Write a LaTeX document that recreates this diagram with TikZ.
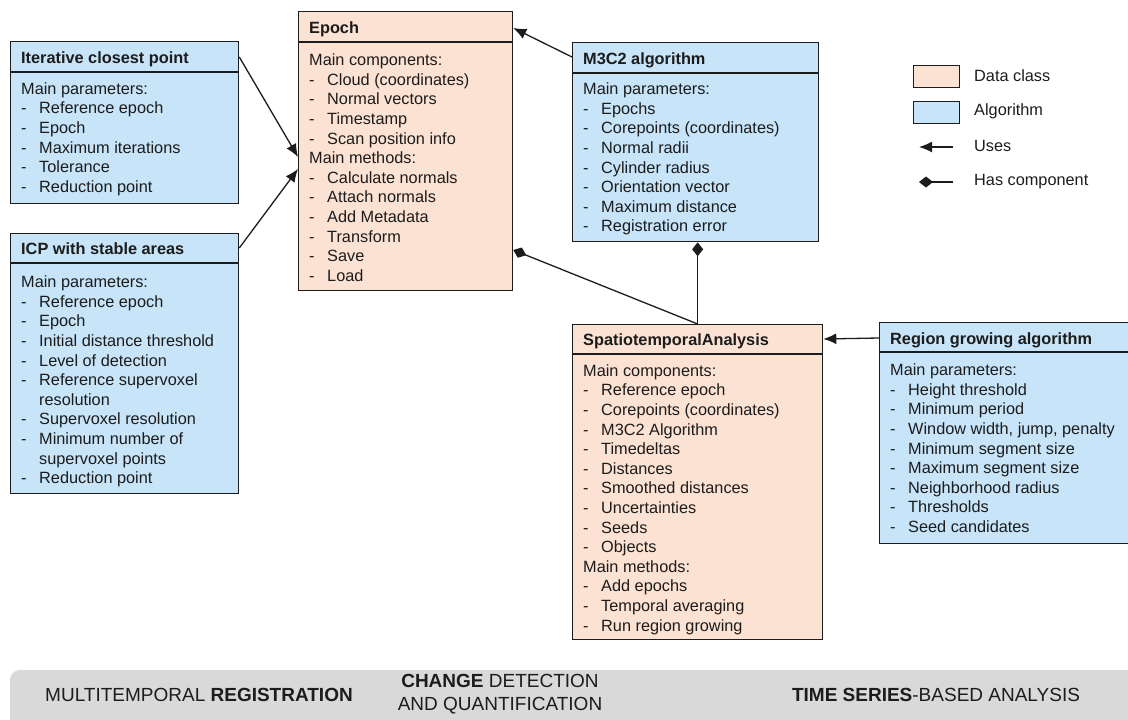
\documentclass[tikz,border=0pt]{standalone}
\usepackage{fontspec}
\setmainfont{Liberation Sans}
\usetikzlibrary{arrows.meta, calc}

\definecolor{dataclr}{RGB}{252,226,211}
\definecolor{algclr}{RGB}{199,228,248}
\definecolor{bandclr}{RGB}{217,217,217}
\definecolor{inkclr}{RGB}{28,28,28}

\newcommand{\li}[1]{\makebox[18pt][l]{-}#1}
\newcommand{\lc}[1]{\hspace*{18pt}#1}
\newcommand{\firstline}{\rule{0pt}{15pt}}

\begin{document}
\begin{tikzpicture}[
	x=1pt, y=-1pt,
	every node/.style={font=\fontsize{16.3}{19.6}\selectfont, text=inkclr},
	databox/.style={draw=inkclr, line width=1.3pt, fill=dataclr, anchor=north west, inner sep=0pt},
	algbox/.style={databox, fill=algclr},
	divider/.style={draw=inkclr, line width=1.3pt},
	header/.style={anchor=base west, inner sep=0pt, font=\fontsize{16.3}{19.6}\selectfont\bfseries},
	body/.style={anchor=north west, inner sep=0pt, align=left},
	keylabel/.style={anchor=west, inner sep=0pt},
	bandlabel/.style={inner sep=0pt, align=center, font=\fontsize{19}{23}\selectfont},
	uses/.style={draw=inkclr, line width=1.3pt, -{Latex[length=13pt, width=11pt]}},
	has/.style={draw=inkclr, line width=1.3pt, -{Diamond[length=14pt, width=11pt]}}
	]
	
	\useasboundingbox (0,0) rectangle (1128,720);
	\clip (0,0) rectangle (1128,720);
	
	% bottom band
	\fill[bandclr, rounded corners=10pt] (10,670) rectangle (1160,760);
	\node[bandlabel] (reg) at (199,695) {MULTITEMPORAL \textbf{REGISTRATION}};
	\node[bandlabel] (chg) at (500,694) {\textbf{CHANGE} DETECTION\\AND QUANTIFICATION};
	\node[bandlabel] (tsa) at (936,695) {\textbf{TIME SERIES}-BASED ANALYSIS};
	
	% classes
	\node[algbox, minimum width=228pt, minimum height=162pt] (icp) at (10,41) {};
	\draw[divider] ($(icp.north west)+(0,31)$) -- ($(icp.north east)+(0,31)$);
	\node[header] (icp-t) at ($(icp.north west)+(11,22.5)$) {Iterative closest point};
	\node[body] (icp-b) at ($(icp.north west)+(11,38)$) {\firstline Main parameters:\\
		\li{Reference epoch}\\
		\li{Epoch}\\
		\li{Maximum iterations}\\
		\li{Tolerance}\\
		\li{Reduction point}};
	
	\node[algbox, minimum width=228pt, minimum height=260pt] (icpsa) at (10,233) {};
	\draw[divider] ($(icpsa.north west)+(0,30)$) -- ($(icpsa.north east)+(0,30)$);
	\node[header] (icpsa-t) at ($(icpsa.north west)+(11,21.5)$) {ICP with stable areas};
	\node[body] (icpsa-b) at ($(icpsa.north west)+(11,39.5)$) {\firstline Main parameters:\\
		\li{Reference epoch}\\
		\li{Epoch}\\
		\li{Initial distance threshold}\\
		\li{Level of detection}\\
		\li{Reference supervoxel}\\
		\lc{resolution}\\
		\li{Supervoxel resolution}\\
		\li{Minimum number of}\\
		\lc{supervoxel points}\\
		\li{Reduction point}};
	
	\node[databox, minimum width=214pt, minimum height=279pt] (epoch) at (298,11) {};
	\draw[divider] ($(epoch.north west)+(0,31)$) -- ($(epoch.north east)+(0,31)$);
	\node[header] (epoch-t) at ($(epoch.north west)+(11,22)$) {Epoch};
	\node[body] (epoch-b) at ($(epoch.north west)+(11,39.5)$) {\firstline Main components:\\
		\li{Cloud (coordinates)}\\
		\li{Normal vectors}\\
		\li{Timestamp}\\
		\li{Scan position info}\\
		Main methods:\\
		\li{Calculate normals}\\
		\li{Attach normals}\\
		\li{Add Metadata}\\
		\li{Transform}\\
		\li{Save}\\
		\li{Load}};
	
	\node[algbox, minimum width=246pt, minimum height=199pt] (m3c2) at (572,42) {};
	\draw[divider] ($(m3c2.north west)+(0,31)$) -- ($(m3c2.north east)+(0,31)$);
	\node[header] (m3c2-t) at ($(m3c2.north west)+(11,22)$) {M3C2 algorithm};
	\node[body] (m3c2-b) at ($(m3c2.north west)+(11,37.5)$) {\firstline Main parameters:\\
		\li{Epochs}\\
		\li{Corepoints (coordinates)}\\
		\li{Normal radii}\\
		\li{Cylinder radius}\\
		\li{Orientation vector}\\
		\li{Maximum distance}\\
		\li{Registration error}};
	
	\node[databox, minimum width=250pt, minimum height=315pt] (spatio) at (572,324) {};
	\draw[divider] ($(spatio.north west)+(0,30)$) -- ($(spatio.north east)+(0,30)$);
	\node[header] (spatio-t) at ($(spatio.north west)+(11,21.5)$) {SpatiotemporalAnalysis};
	\node[body] (spatio-b) at ($(spatio.north west)+(11,37)$) {\firstline Main components:\\
		\li{Reference epoch}\\
		\li{Corepoints (coordinates)}\\
		\li{M3C2 Algorithm}\\
		\li{Timedeltas}\\
		\li{Distances}\\
		\li{Smoothed distances}\\
		\li{Uncertainties}\\
		\li{Seeds}\\
		\li{Objects}\\
		Main methods:\\
		\li{Add epochs}\\
		\li{Temporal averaging}\\
		\li{Run region growing}};
	
	\node[algbox, minimum width=249pt, minimum height=221pt] (region) at (879,322) {};
	\draw[divider] ($(region.north west)+(0,30)$) -- ($(region.north east)+(0,30)$);
	\node[header] (region-t) at ($(region.north west)+(11,22.5)$) {Region growing algorithm};
	\node[body] (region-b) at ($(region.north west)+(11,38.5)$) {\firstline Main parameters:\\
		\li{Height threshold}\\
		\li{Minimum period}\\
		\li{Window width, jump, penalty}\\
		\li{Minimum segment size}\\
		\li{Maximum segment size}\\
		\li{Neighborhood radius}\\
		\li{Thresholds}\\
		\li{Seed candidates}};
	
	% relations
	\draw[uses] ($(icp.north east)+(0,16)$) -- ($(epoch.north west)+(0,146)$);
	\draw[uses] ($(icpsa.north east)+(0,15)$) -- ($(epoch.north west)+(0,158)$);
	\draw[uses] ($(m3c2.north west)+(0,15)$) -- ($(epoch.north east)+(0,17)$);
	\draw[uses] ($(region.north west)+(0,16)$) -- ($(spatio.north east)+(0,15)$);
	\draw[has] (spatio.north) -- ($(epoch.north east)+(0,239)$);
	\draw[has] (spatio.north) -- (spatio.north |- m3c2.south);
	
	% legend
	\node[databox, minimum width=46pt, minimum height=22pt] (keydata) at (913,65) {};
	\node[keylabel] (keydata-t) at (974,76) {Data class};
	\node[algbox, minimum width=46pt, minimum height=22pt] (keyalg) at (913,101) {};
	\node[keylabel] (keyalg-t) at (974,111) {Algorithm};
	\coordinate (keyuses-a) at (953,147);
	\coordinate (keyuses-b) at (919,147);
	\draw[uses] (keyuses-a) -- (keyuses-b);
	\node[keylabel] (keyuses-t) at (974,146) {Uses};
	\coordinate (keyhas-a) at (953,182);
	\coordinate (keyhas-b) at (919,182);
	\draw[has] (keyhas-a) -- (keyhas-b);
	\node[keylabel] (keyhas-t) at (974,182) {Has component};
	
\end{tikzpicture}
\end{document}
